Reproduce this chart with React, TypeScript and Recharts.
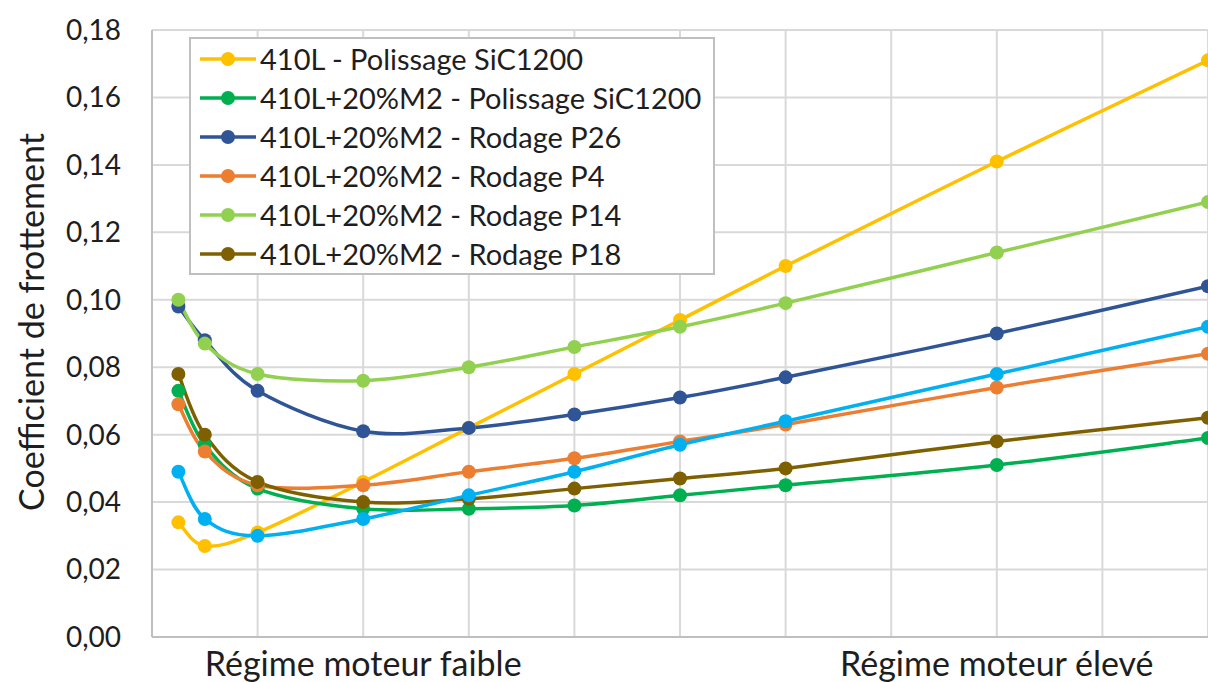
import { LineChart, Line, XAxis, YAxis, CartesianGrid, Legend } from "recharts";

const X_VALUES = [0.25, 0.5, 1, 2, 3, 4, 5, 6, 8, 10];
const X_TICKS = [0, 1, 2, 3, 4, 5, 6, 7, 8, 9, 10];
const Y_TICKS = [0, 0.02, 0.04, 0.06, 0.08, 0.1, 0.12, 0.14, 0.16, 0.18];
const REGIME_TICKS = [2, 8];
const REGIME_LABELS = ["Régime moteur faible", "Régime moteur élevé"];

const s410L = [0.034, 0.027, 0.031, 0.046, 0.062, 0.078, 0.094, 0.110, 0.141, 0.171];
const sPolissage = [0.073, 0.057, 0.044, 0.038, 0.038, 0.039, 0.042, 0.045, 0.051, 0.059];
const sP26 = [0.098, 0.088, 0.073, 0.061, 0.062, 0.066, 0.071, 0.077, 0.090, 0.104];
const sP4 = [0.069, 0.055, 0.045, 0.045, 0.049, 0.053, 0.058, 0.063, 0.074, 0.084];
const sP14 = [0.100, 0.087, 0.078, 0.076, 0.080, 0.086, 0.092, 0.099, 0.114, 0.129];
const sP18 = [0.078, 0.060, 0.046, 0.040, 0.041, 0.044, 0.047, 0.050, 0.058, 0.065];
const sExtra = [0.049, 0.035, 0.030, 0.035, 0.042, 0.049, 0.057, 0.064, 0.078, 0.092];

const SERIES = [
  { key: "a", name: "410L - Polissage SiC1200", color: "#FFC000", values: s410L, legend: true },
  { key: "b", name: "410L+20%M2 - Polissage SiC1200", color: "#00B050", values: sPolissage, legend: true },
  { key: "c", name: "410L+20%M2 - Rodage P26", color: "#2F5597", values: sP26, legend: true },
  { key: "d", name: "410L+20%M2 - Rodage P4", color: "#ED7D31", values: sP4, legend: true },
  { key: "e", name: "410L+20%M2 - Rodage P14", color: "#92D050", values: sP14, legend: true },
  { key: "f", name: "410L+20%M2 - Rodage P18", color: "#7F6000", values: sP18, legend: true },
  { key: "g", name: "410L+20%M2", color: "#00B0F0", values: sExtra, legend: false },
];

const FONT = "Lato, 'Open Sans', sans-serif";
const FS_TICK = 28;
const FS_LEGEND = 29;
const FS_TITLE = 34;
const TEXT = "#1e1e1e";

// excel-ish smoothed line (catmull-rom through the points)
const smooth = (context: any) => {
  let pts: number[][] = [];
  return {
    areaStart() {},
    areaEnd() {},
    lineStart() { pts = []; },
    point(x: number, y: number) { pts.push([+x, +y]); },
    lineEnd() {
      if (!pts.length) return;
      context.moveTo(pts[0][0], pts[0][1]);
      for (let i = 0; i < pts.length - 1; i++) {
        const p0 = pts[i - 1] ?? pts[i];
        const p1 = pts[i];
        const p2 = pts[i + 1];
        const p3 = pts[i + 2] ?? p2;
        context.bezierCurveTo(
          p1[0] + (p2[0] - p0[0]) / 6, p1[1] + (p2[1] - p0[1]) / 6,
          p2[0] - (p3[0] - p1[0]) / 6, p2[1] - (p3[1] - p1[1]) / 6,
          p2[0], p2[1]
        );
      }
    },
  };
};

const data = X_VALUES.map((x, i) => {
  const row: Record<string, number> = { x };
  SERIES.forEach((s) => { row[s.key] = s.values[i]; });
  return row;
});

const regimeLabel = (v: number) => {
  const idx = REGIME_TICKS.indexOf(v);
  return idx >= 0 ? REGIME_LABELS[idx] : "";
};

function LegendBox() {
  return (
    <div style={{ background: "#fff", border: "2px solid #bfbfbf", padding: "0 12px 0 9px", fontFamily: FONT, fontSize: FS_LEGEND, color: TEXT }}>
      {SERIES.filter((s) => s.legend).map((s) => (
        <div key={s.key} style={{ display: "flex", alignItems: "center", height: 39, whiteSpace: "nowrap" }}>
          <svg width={58} height={20} style={{ marginRight: 2 }}>
            <line x1={0} y1={10} x2={56} y2={10} stroke={s.color} strokeWidth={3.5} />
            <circle cx={28} cy={10} r={7} fill={s.color} />
          </svg>
          <span>{s.name}</span>
        </div>
      ))}
    </div>
  );
}

export default function App() {
  return (
    <div style={{ position: "fixed", left: 0, top: 0, width: 1208, height: 682, overflow: "hidden", background: "#fff" }}>
      <LineChart width={1230} height={682} data={data} margin={{ top: 30, right: 22, bottom: 0, left: 0 }}>
        <CartesianGrid stroke="#d9d9d9" strokeWidth={2} />
        <XAxis
          dataKey="x"
          type="number"
          domain={[0, 10]}
          ticks={X_TICKS}
          interval={0}
          height={45}
          tickFormatter={regimeLabel}
          tickLine={false}
          tickSize={0}
          tickMargin={15}
          axisLine={{ stroke: "#bfbfbf", strokeWidth: 2 }}
          tick={{ fill: TEXT, fontSize: FS_TITLE, fontFamily: FONT }}
        />
        <YAxis
          type="number"
          domain={[0, 0.18]}
          ticks={Y_TICKS}
          width={152}
          tickFormatter={(v: number) => v.toFixed(2).replace(".", ",")}
          tickLine={false}
          tickSize={0}
          tickMargin={31}
          axisLine={{ stroke: "#bfbfbf", strokeWidth: 2 }}
          tick={{ fill: TEXT, fontSize: FS_TICK, fontFamily: FONT }}
          label={() => (
            <text x={30} y={322} transform="rotate(-90 30 322)" textAnchor="middle" dominantBaseline="central"
              fill={TEXT} fontSize={FS_TITLE} fontFamily={FONT}>
              Coefficient de frottement
            </text>
          )}
        />
        <Legend
          layout="horizontal"
          verticalAlign="middle"
          align="center"
          wrapperStyle={{ left: 189, top: 37, width: "auto" }}
          content={() => <LegendBox />}
        />
        {SERIES.map((s) => (
          <Line
            key={s.key}
            dataKey={s.key}
            name={s.name}
            type={smooth as any}
            stroke={s.color}
            strokeWidth={3.5}
            dot={{ r: 7, fill: s.color, stroke: s.color, strokeWidth: 0 }}
            activeDot={false}
            isAnimationActive={false}
          />
        ))}
      </LineChart>
    </div>
  );
}
